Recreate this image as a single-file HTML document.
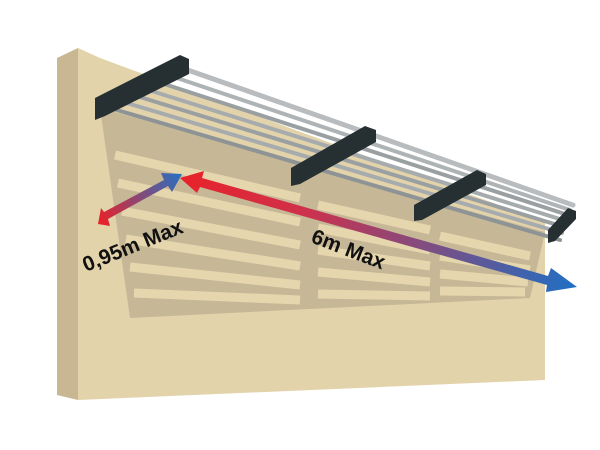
<!DOCTYPE html><html><head><style>body{margin:0;background:#fff}svg{display:block}</style></head><body>
<svg width="600" height="450" viewBox="0 0 600 450" xmlns="http://www.w3.org/2000/svg">
<defs>
<linearGradient id="g1" x1="100" y1="222" x2="180" y2="175" gradientUnits="userSpaceOnUse"><stop offset="0" stop-color="#e8222a"/><stop offset="1" stop-color="#2a6fc0"/></linearGradient>
<linearGradient id="g2" x1="180" y1="180" x2="577" y2="287" gradientUnits="userSpaceOnUse"><stop offset="0" stop-color="#e8222a"/><stop offset="0.3" stop-color="#d0304a"/><stop offset="1" stop-color="#1f6fc4"/></linearGradient>
</defs>
<polygon points="57,58 78,48 78,400 57,395" fill="#c8b792"/>
<polygon points="78,48 100,58 545,222 545,380 78,400" fill="#e3d3ab"/>
<polygon points="100,108 545,232 530,298 130,318" fill="#c6b897"/>
<g stroke="#e6d6ae" stroke-width="9" fill="none">
<line x1="115" y1="155" x2="300" y2="198"/><line x1="118" y1="183" x2="300" y2="222"/>
<line x1="122" y1="211" x2="300" y2="245"/><line x1="126" y1="239" x2="300" y2="266"/>
<line x1="130" y1="267" x2="300" y2="285"/><line x1="134" y1="293" x2="300" y2="300"/>
<line x1="318" y1="205" x2="430" y2="230"/><line x1="318" y1="228" x2="430" y2="250"/>
<line x1="318" y1="250" x2="430" y2="266"/><line x1="318" y1="272" x2="430" y2="282"/>
<line x1="318" y1="294" x2="430" y2="296"/>
<line x1="440" y1="236" x2="530" y2="256"/><line x1="440" y1="256" x2="530" y2="270"/>
<line x1="440" y1="274" x2="528" y2="282"/><line x1="440" y1="291" x2="525" y2="292"/>
</g>
<g stroke-linecap="round" fill="none">
<line x1="110" y1="108" x2="560" y2="240" stroke="#8e9496" stroke-width="4"/>
<line x1="120" y1="101" x2="562" y2="233" stroke="#a6abad" stroke-width="4"/>
<line x1="130" y1="94" x2="564" y2="227" stroke="#9aa0a2" stroke-width="4"/>
<line x1="142" y1="88" x2="566" y2="221" stroke="#a6abad" stroke-width="4"/>
<line x1="155" y1="81" x2="568" y2="215" stroke="#9aa0a2" stroke-width="4"/>
<line x1="168" y1="75" x2="570" y2="210" stroke="#aeb3b5" stroke-width="4"/>
<line x1="182" y1="68" x2="573" y2="205" stroke="#b8bcbe" stroke-width="5"/>
<line x1="184" y1="65" x2="574" y2="202" stroke="#fff" stroke-width="1.5"/>
</g>
<g fill="#263032">
<polygon points="95,98 180,55 189,59 189,74 105,116 95,120"/>
<polygon points="291,168 365,126 376,130 376,142 300,184 291,186"/>
<polygon points="414,205 477,170 486,174 486,185 422,220 414,221"/>
<polygon points="548,230 568,208 576,211 576,219 555,241 548,243"/>
</g>
<path d="M104,212 L164,180 L161,173 L182,174 L172,192 L168,186 L108,219 L110,226 L98,224 L101,208 Z" fill="url(#g1)"/>
<path d="M180,178 L204,171 L202,178 L548,276 L551,268 L577,287 L546,292 L547,285 L200,187 L197,193 Z" fill="url(#g2)"/>
<g font-family="Liberation Sans, sans-serif" font-weight="bold" font-size="21" fill="#111">
<text transform="translate(86,272) rotate(-22)">0,95m Max</text>
<text transform="translate(310,242) rotate(21)">6m Max</text>
</g>
</svg>
</body></html>
